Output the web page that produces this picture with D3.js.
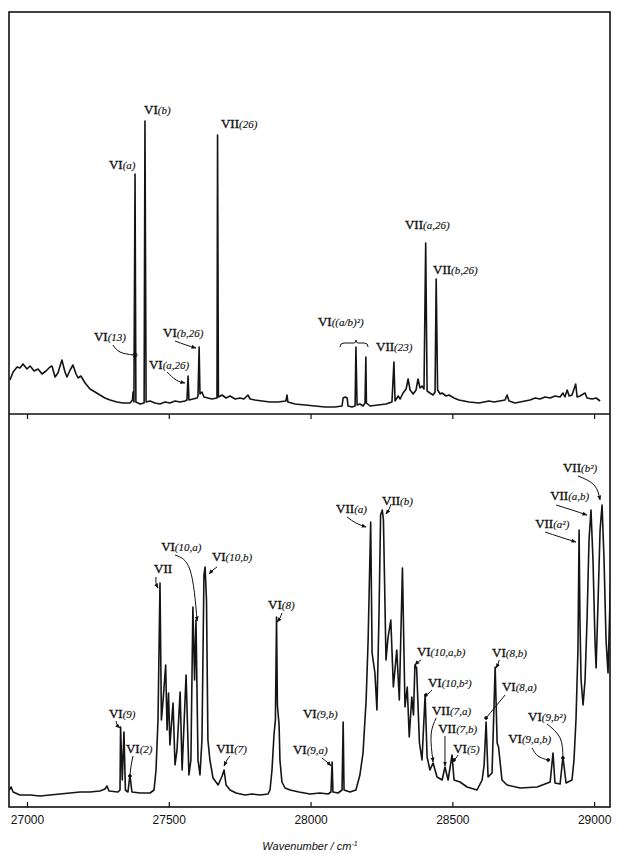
<!DOCTYPE html>
<meta charset="utf-8">
<style>
  body { margin: 0; background: #fff; }
  .spec { fill: none; stroke: #141414; stroke-width: 1.6px; stroke-linejoin: round; }
  .frame { fill: none; stroke: #111; stroke-width: 1.6px; }
  .lab { font-family: "Liberation Serif", "Times New Roman", serif; fill: #111; stroke: #111; stroke-width: 0.35px; }
  .lab .num { font-size: 13px; }
  .lab .arg { font-size: 11px; font-style: italic; stroke-width: 0.15px; }
  .arrow { fill: none; stroke: #111; stroke-width: 1px; }
  .tick line { stroke: #111; stroke-width: 1.2px; }
  .tick text { font: 12px "Liberation Sans", Arial, sans-serif; fill: #111; }
  .xtitle { font: italic 11px "Liberation Sans", Arial, sans-serif; fill: #111; }
</style>
<svg width="618" height="854"></svg>
<script src="https://cdn.jsdelivr.net/npm/d3@7"></script>
<script>
  // wavenumber (cm-1), intensity (arb. units, 0-100)
  const topSpectrum = [
    [26940,8.5],[26951,10.5],[26965,11.75],[26975,11.5],[26986,12.5],[27000,11.25],[27011,12],[27025,10.75],
    [27039,11.25],[27053,10],[27067,10.75],[27081,11.75],[27088,12],[27099,9.25],[27109,10.25],[27123,13.5],
    [27134,10.5],[27141,9.25],[27152,11],[27162,12.25],[27173,10],[27180,9],[27190,9.5],[27205,7.75],
    [27222,6.25],[27240,5.5],[27257,4.75],[27275,4],[27293,3.5],[27317,3],[27339,2.75],[27363,2.75],
    [27372,3.5],[27374,5.5],[27377,3],[27381,60],[27384,3],[27399,2.5],[27413,2.75],[27416,73.25],
    [27420,3],[27434,3.25],[27451,2.75],[27469,2.5],[27487,3],[27504,2.75],[27522,3.25],[27540,3],
    [27557,3.25],[27564,3.5],[27568,9.5],[27571,3.5],[27585,3.75],[27600,4],[27603,4.5],[27607,16.75],
    [27610,5],[27617,5.5],[27624,4.25],[27638,4],[27652,3.75],[27670,4],[27672,69.75],[27675,4.25],
    [27688,4.75],[27702,4],[27716,4.5],[27734,3.75],[27751,4],[27765,3.75],[27779,4.75],[27787,3.75],
    [27804,3.5],[27829,3.25],[27857,3],[27885,3],[27913,3.25],[27917,4.75],[27920,3],[27945,2.5],
    [27981,2.25],[28016,2],[28051,1.75],[28086,1.75],[28111,2],[28115,4],[28122,4.25],[28129,4],
    [28132,2],[28146,1.75],[28157,2],[28160,16.75],[28164,2.25],[28174,2.5],[28185,2],[28192,2.75],
    [28195,14.25],[28197,2.75],[28210,2],[28238,2.25],[28266,2.5],[28287,3],[28294,13],[28298,3.25],
    [28309,4.5],[28316,3.75],[28326,5.25],[28337,6.25],[28344,8.75],[28351,6],[28362,5],[28372,6],
    [28379,8.75],[28386,6.5],[28393,7],[28400,6.25],[28406,42.75],[28411,5.75],[28421,5.25],[28432,4.75],
    [28439,5.5],[28443,33.75],[28448,6],[28457,5],[28464,5.25],[28478,4.5],[28488,4.75],[28506,4],
    [28523,3.5],[28559,3],[28594,2.75],[28629,3.25],[28647,3],[28686,3.5],[28693,4.75],[28700,3.25],
    [28721,2.75],[28739,3],[28756,3.25],[28774,3.5],[28792,4],[28809,3.75],[28827,4.25],[28845,4],
    [28862,4.5],[28880,4.25],[28890,5.25],[28897,4.25],[28905,6],[28912,4.5],[28922,4.75],[28935,7.5],
    [28940,4.25],[28950,4.5],[28968,5.25],[28975,4],[28993,3.75],[29007,4],[29021,3.25]
  ];

  const bottomSpectrum = [
    [26937,4.25],[26944,5],[26951,3.75],[26975,3],[27011,3],[27046,2.75],[27081,3],[27116,3.25],
    [27152,3.5],[27187,3.75],[27222,3.75],[27257,4],[27275,4.5],[27282,5.25],[27289,4],[27321,3.75],
    [27328,4.25],[27330,20],[27336,6.75],[27342,18.75],[27347,4.25],[27356,3.75],[27363,8],[27370,3.75],
    [27399,3.5],[27434,3.5],[27448,4.25],[27455,9.25],[27462,21.75],[27469,56],[27474,21.75],[27480,26.75],
    [27489,35.5],[27494,19.25],[27499,28.5],[27504,15.5],[27515,26],[27522,10.5],[27529,14.25],[27540,28.75],
    [27547,9.25],[27561,33],[27571,8],[27578,11.75],[27585,50],[27591,31.75],[27596,46.75],[27603,11.75],
    [27610,8],[27617,16.75],[27624,58],[27628,60],[27633,51.75],[27638,16.75],[27645,11.75],[27656,7.25],
    [27674,5.5],[27688,7.75],[27695,9.25],[27702,5.5],[27716,4.25],[27737,3.5],[27769,3],[27794,3.25],
    [27822,3],[27850,3.25],[27857,4.25],[27864,9.25],[27871,18],[27876,21.75],[27880,47.5],[27883,25.5],
    [27889,20.5],[27892,11.75],[27899,6.25],[27910,4.75],[27928,4.25],[27959,3.75],[27998,3.25],[28033,3.5],
    [28062,3.25],[28072,3.75],[28076,11.25],[28079,3.75],[28097,3.5],[28111,4.25],[28115,21.25],[28118,4.25],
    [28139,3.75],[28160,4.25],[28174,8],[28185,13.5],[28196,26.75],[28203,41.75],[28212,71.25],[28217,38.5],
    [28227,33.5],[28234,24.25],[28241,46.75],[28247,73],[28253,74.25],[28257,71.75],[28266,36.75],[28273,42.25],
    [28283,46.75],[28292,30],[28304,39.25],[28313,26.75],[28324,59.75],[28333,25],[28341,30],[28348,17.5],
    [28357,27.5],[28363,23],[28368,35.5],[28374,34.75],[28384,16],[28393,11.75],[28404,28],[28411,12.5],
    [28421,9.25],[28432,11],[28446,7.5],[28464,6.75],[28474,10],[28485,6.75],[28499,13],[28506,6.75],
    [28527,6.25],[28552,5],[28587,4.25],[28605,6.75],[28612,10.5],[28619,21.25],[28626,7.5],[28640,8.5],
    [28651,35],[28658,16],[28663,15],[28675,6.75],[28693,5.5],[28739,4.75],[28799,5],[28845,6.25],
    [28855,13.5],[28862,6],[28880,5.75],[28890,12.5],[28901,6],[28922,6.75],[28929,11.75],[28936,21.75],
    [28943,39.25],[28947,69.25],[28950,46.75],[28954,31.75],[28961,25.5],[28968,31.75],[28975,46.75],[28982,66.75],
    [28989,74.25],[28996,61.75],[29003,41.75],[29007,34.75],[29014,51.75],[29021,69.25],[29028,75.5],[29035,61.75],
    [29042,41.75],[29049,33.5],[29056,51.75],[29063,66.75]
  ];

  const xTicks = [27000, 27500, 28000, 28500, 29000];

  // band assignments: label anchor and leader line in [wavenumber, intensity]
  const topLabels = [
    {num: "VI", arg: "(a)", at: [27289, 61.25]},
    {num: "VI", arg: "(b)", at: [27413, 75]},
    {num: "VII", arg: "(26)", at: [27684, 71.5]},
    {num: "VI", arg: "(13)", at: [27236, 18.25], path: [[27303, 17.25], [27328, 15.5], [27374, 14.75]], end: "ring"},
    {num: "VI", arg: "(a,26)", at: [27430, 11.25], path: [[27494, 10.5], [27526, 8.5], [27557, 7.75]], end: "arrow"},
    {num: "VI", arg: "(b,26)", at: [27480, 19.25], path: [[27522, 18.25], [27561, 17.25], [27596, 16.5]], end: "arrow"},
    {num: "VI", arg: "((a/b)²)", at: [28026, 22]},
    {num: "VII", arg: "(23)", at: [28231, 15.75]},
    {num: "VII", arg: "(a,26)", at: [28333, 46.25]},
    {num: "VII", arg: "(b,26)", at: [28432, 35]}
  ];
  const topBrace = {from: 28104, to: 28203, mid: 28160, level: 17.75};

  const bottomLabels = [
    {num: "VI", arg: "(9)", at: [27289, 22.25], path: [[27314, 21.5], [27318, 20.5], [27328, 19.75]], end: "arrow"},
    {num: "VI", arg: "(2)", at: [27349, 13.5], path: [[27374, 12.75], [27367, 10.25], [27363, 7.75]], end: "dot"},
    {num: "VII", arg: "", at: [27448, 58.5], path: [[27455, 57.5], [27455, 56], [27462, 54.75]], end: "arrow"},
    {num: "VI", arg: "(10,a)", at: [27473, 64], path: [[27522, 63], [27575, 59.25], [27600, 46.5]], end: "arrow"},
    {num: "VI", arg: "(10,b)", at: [27652, 61.5], path: [[27670, 60], [27656, 59.25], [27642, 58.25]], end: "arrow"},
    {num: "VII", arg: "(7)", at: [27667, 13.5], path: [[27716, 12.75], [27705, 11.75], [27695, 10.25]], end: "arrow"},
    {num: "VI", arg: "(8)", at: [27850, 49.5], path: [[27899, 48.5], [27892, 47.25], [27882, 46.25]], end: "arrow"},
    {num: "VI", arg: "(9,a)", at: [27938, 13.25], path: [[28040, 12.25], [28058, 11.25], [28072, 10.25]], end: "arrow"},
    {num: "VI", arg: "(9,b)", at: [27973, 22.25]},
    {num: "VII", arg: "(a)", at: [28090, 73.5], path: [[28129, 72.5], [28160, 71], [28196, 70]], end: "arrow"},
    {num: "VII", arg: "(b)", at: [28252, 75.5], path: [[28284, 75.75], [28277, 74.5], [28266, 73.25]], end: "arrow"},
    {num: "VI", arg: "(10,a,b)", at: [28375, 37.75], path: [[28390, 36.75], [28379, 36.25], [28368, 35.5]], end: "arrow"},
    {num: "VI", arg: "(10,b²)", at: [28414, 30], path: [[28428, 29.25], [28418, 28.5], [28407, 28]], end: "dot"},
    {num: "VII", arg: "(7,a)", at: [28428, 23], path: [[28443, 22.25], [28425, 18], [28432, 11.25]], end: "arrow"},
    {num: "VII", arg: "(7,b)", at: [28450, 18.5], path: [[28474, 17.75], [28474, 14.25], [28474, 10.25]], end: "arrow"},
    {num: "VI", arg: "(5)", at: [28503, 13.5], path: [[28520, 13], [28513, 12.25], [28506, 11.75]], end: "dot"},
    {num: "VI", arg: "(8,b)", at: [28640, 37.5], path: [[28665, 36.75], [28661, 35.75], [28654, 34.75]], end: "arrow"},
    {num: "VI", arg: "(8,a)", at: [28675, 29], path: [[28686, 28], [28651, 25], [28619, 22.25]], end: "dot"},
    {num: "VI", arg: "(9,b²)", at: [28767, 21.5], path: [[28834, 20.75], [28880, 17.25], [28890, 12.25]], end: "dot"},
    {num: "VI", arg: "(9,a,b)", at: [28697, 16], path: [[28781, 14.75], [28802, 12.75], [28838, 11.75]], end: "dot"},
    {num: "VII", arg: "(a²)", at: [28792, 69.75], path: [[28827, 68.75], [28880, 67.5], [28936, 66.25]], end: "arrow"},
    {num: "VII", arg: "(a,b)", at: [28845, 76.75], path: [[28866, 75.5], [28922, 74.25], [28975, 73]], end: "arrow"},
    {num: "VII", arg: "(b²)", at: [28890, 83.75], path: [[28943, 82.75], [29000, 80.5], [29021, 76.75]], end: "arrow"}
  ];

  const frameL = 9, frameR = 610, frameT = 12, frameM = 414, frameB = 807;

  const svg = d3.select("svg");

  const x = d3.scaleLinear().domain([26936.5, 29056]).range([frameL, frameR]);
  const yTop = d3.scaleLinear().domain([0, 100]).range([frameM, frameM - 400]);
  const yBot = d3.scaleLinear().domain([0, 100]).range([frameB, frameB - 400]);

  const defs = svg.append("defs");
  defs.append("clipPath").attr("id", "clipTop")
    .append("rect").attr("x", frameL).attr("y", frameT).attr("width", frameR - frameL).attr("height", frameM - frameT);
  defs.append("clipPath").attr("id", "clipBot")
    .append("rect").attr("x", frameL).attr("y", frameM).attr("width", frameR - frameL).attr("height", frameB - frameM);
  defs.append("marker")
    .attr("id", "head")
    .attr("viewBox", "0 0 10 10")
    .attr("refX", 9).attr("refY", 5)
    .attr("markerWidth", 5).attr("markerHeight", 5)
    .attr("orient", "auto")
    .append("path").attr("d", "M0,1L10,5L0,9z").attr("fill", "#111");

  function drawPanel(data, labels, y, clip) {
    const g = svg.append("g");
    g.append("path")
      .datum(data)
      .attr("class", "spec")
      .attr("clip-path", "url(#" + clip + ")")
      .attr("d", d3.line().x(d => x(d[0])).y(d => y(d[1])));

    const lab = g.selectAll(".lab")
      .data(labels)
      .enter()
      .append("text")
      .attr("class", "lab")
      .attr("x", d => x(d.at[0]))
      .attr("y", d => y(d.at[1]));
    lab.append("tspan").attr("class", "num").text(d => d.num);
    lab.append("tspan").attr("class", "arg").text(d => d.arg);

    const leader = d3.line().curve(d3.curveNatural).x(d => x(d[0])).y(d => y(d[1]));
    const withPath = labels.filter(d => d.path);
    g.selectAll(".arrow")
      .data(withPath)
      .enter()
      .append("path")
      .attr("class", "arrow")
      .attr("d", d => leader(d.path))
      .attr("marker-end", d => d.end === "arrow" ? "url(#head)" : null);
    g.selectAll(".dot")
      .data(withPath.filter(d => d.end !== "arrow"))
      .enter()
      .append("circle")
      .attr("class", "dot")
      .attr("cx", d => x(d.path[d.path.length - 1][0]) + (d.end === "ring" ? 2 : 0))
      .attr("cy", d => y(d.path[d.path.length - 1][1]))
      .attr("r", d => d.end === "ring" ? 2 : 1.4)
      .attr("fill", d => d.end === "ring" ? "none" : "#111")
      .attr("stroke", "#111")
      .attr("stroke-width", 0.9);
    return g;
  }

  const gTop = drawPanel(topSpectrum, topLabels, yTop, "clipTop");
  drawPanel(bottomSpectrum, bottomLabels, yBot, "clipBot");

  // brace over the VI((a/b)^2) pair
  const by = yTop(topBrace.level);
  gTop.append("path")
    .attr("class", "arrow")
    .attr("stroke-width", 1.3)
    .attr("d", "M" + x(topBrace.from) + "," + (by + 4) +
      "Q" + x(topBrace.from) + "," + by + " " + (x(topBrace.from) + 4) + "," + by +
      "L" + (x(topBrace.mid) - 2) + "," + by +
      "Q" + x(topBrace.mid) + "," + by + " " + x(topBrace.mid) + "," + (by - 3) +
      "Q" + x(topBrace.mid) + "," + by + " " + (x(topBrace.mid) + 2) + "," + by +
      "L" + (x(topBrace.to) - 4) + "," + by +
      "Q" + x(topBrace.to) + "," + by + " " + x(topBrace.to) + "," + (by + 4));

  // frame
  svg.append("rect").attr("class", "frame")
    .attr("x", frameL).attr("y", frameT).attr("width", frameR - frameL).attr("height", frameB - frameT);
  svg.append("line").attr("class", "frame")
    .attr("x1", frameL).attr("x2", frameR).attr("y1", frameM).attr("y2", frameM);

  // ticks under the divider
  svg.append("g")
    .attr("transform", "translate(0," + frameM + ")")
    .call(d3.axisBottom(x).tickValues(xTicks).tickSize(5).tickFormat(""))
    .call(g => g.select(".domain").remove());

  // bottom axis
  svg.append("g")
    .attr("transform", "translate(0," + frameB + ")")
    .call(d3.axisBottom(x).tickValues(xTicks).tickSize(-5).tickPadding(8).tickFormat(d3.format("d")))
    .call(g => g.select(".domain").remove())
    .call(g => g.selectAll("text").attr("font-size", null).attr("font-family", null));

  const title = svg.append("text")
    .attr("class", "xtitle")
    .attr("x", 310).attr("y", 850)
    .attr("text-anchor", "middle");
  title.append("tspan").text("Wavenumber / cm");
  title.append("tspan").attr("font-size", "7px").attr("dy", -4).text("-1");
</script>
